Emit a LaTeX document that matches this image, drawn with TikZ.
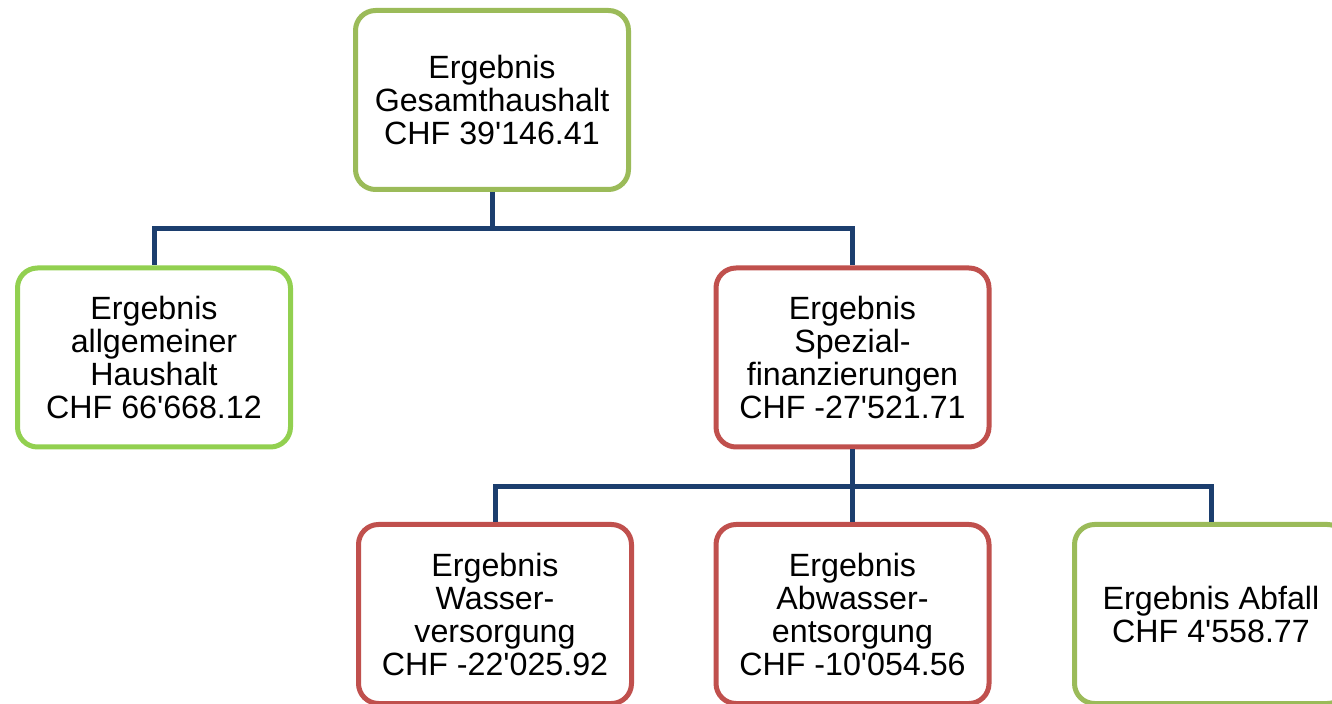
\documentclass[tikz,border=0pt]{standalone}
\usepackage{fontspec}
\setmainfont{Liberation Sans}
\usepackage{tikz}
\usetikzlibrary{arrows}
\definecolor{okgreen}{RGB}{155,187,89}
\definecolor{litegreen}{RGB}{146,208,80}
\definecolor{badred}{RGB}{192,80,77}
\definecolor{busblue}{RGB}{28,62,110}
\newcommand{\q}{\textquotesingle}
\tikzset{
  resbox/.style={draw=#1, line width=2.5pt, rounded corners=10pt, fill=white,
    minimum width=136.5pt, minimum height=89.5pt, align=center, inner sep=0pt,
    font=\fontsize{16.1}{16.5}\selectfont},
  bus/.style={draw=busblue, line width=2.5pt}
}
\begin{document}
\begin{tikzpicture}[x=0.5pt,y=-0.5pt]
         \useasboundingbox (0,0) rectangle (1332,704);
         \clip (0,0) rectangle (1332,704);
         \node [resbox=okgreen] (G) at (492, 100) {Ergebnis\\Gesamthaushalt\\CHF 39\q146.41};
         \node [resbox=litegreen] (A) at (154, 357.5) {Ergebnis\\allgemeiner\\Haushalt\\CHF 66\q668.12};
         \node [resbox=badred] (S) at (852.5, 357.5) {Ergebnis\\Spezial-\\finanzierungen\\CHF -27\q521.71};
         \node [resbox=badred] (W) at (495, 614) {Ergebnis\\Wasser-\\versorgung\\CHF -22\q025.92};
         \node [resbox=badred] (AW) at (852.5, 614) {Ergebnis\\Abwasser-\\entsorgung\\CHF -10\q054.56};
         \node [resbox=okgreen] (AF) at (1211, 614) {Ergebnis Abfall\\CHF 4\q558.77};
         \coordinate (J1) at (492, 229); 
         \coordinate (J2) at (852.5, 487); 
         \draw [bus] (G) -- (J1); 
         \draw [bus] (J1) -| (A); 
         \draw [bus] (J1) -| (S); 
         \draw [bus] (S) -- (J2); 
         \draw [bus] (J2) -| (W); 
         \draw [bus] (J2) -- (AW); 
         \draw [bus] (J2) -| (AF); 
\end{tikzpicture}
\end{document}
